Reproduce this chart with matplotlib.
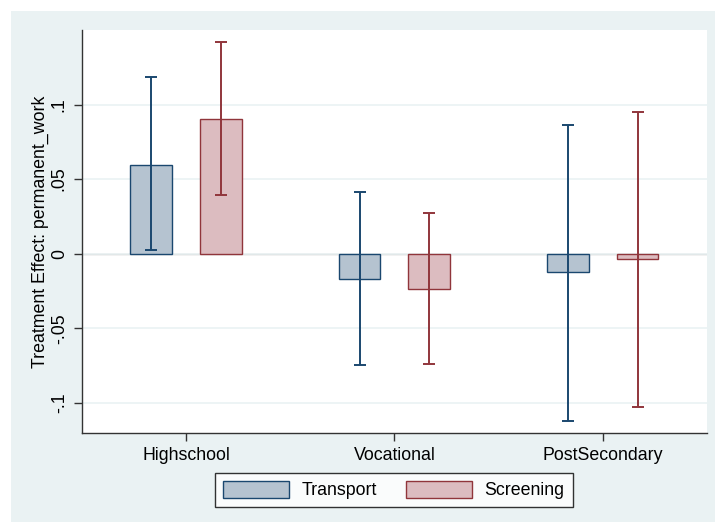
import numpy as np
import matplotlib
matplotlib.use("Agg")
from matplotlib import pyplot as plt
from matplotlib.patches import Rectangle

plt.rcParams['font.family'] = ['Liberation Sans', 'DejaVu Sans']

categories = ["Highschool", "Vocational", "PostSecondary"]
transport = [0.0598, -0.0167, -0.0123]
transport_lo = [0.0022, -0.0743, -0.1122]
transport_hi = [0.1185, 0.0415, 0.0866]
screening = [0.0906, -0.0236, -0.0035]
screening_lo = [0.0395, -0.0738, -0.1031]
screening_hi = [0.1421, 0.0272, 0.0953]

bg = '#eaf2f3'
navy = '#1a476f'
maroon = '#90353b'
fs = 12.8

fig = plt.figure(figsize=(7.15, 5.22), dpi=100)
fig.patch.set_facecolor('white')
fig.patches.append(Rectangle((11 / 715, 0), 1, 511 / 522, transform=fig.transFigure,
                             facecolor=bg, edgecolor='none', zorder=-10))
ax = fig.add_axes([0.1143, 0.1711, 0.8746, 0.7715])
ax.set_facecolor('white')

x = np.arange(1, len(categories) + 1)
off = 0.167
w = 0.2

for xs, vals, lo, hi, fc, ec, lab in [
        (x - off, transport, transport_lo, transport_hi, '#b5c3d0', navy, 'Transport'),
        (x + off, screening, screening_lo, screening_hi, '#dcbcc0', maroon, 'Screening')]:
    ax.bar(xs, vals, width=w, facecolor=fc, edgecolor=ec, linewidth=1, label=lab, zorder=2)
    vals = np.array(vals)
    yerr = [vals - np.array(lo), np.array(hi) - vals]
    ax.errorbar(xs, vals, yerr=yerr, fmt='none', ecolor=ec, elinewidth=1.4,
                capsize=4, capthick=1.4, zorder=3)

ax.set_xlim(0.5, 3.5)
ax.set_ylim(-0.12, 0.15)
ax.set_yticks([-0.1, -0.05, 0, 0.05, 0.1])
ax.set_yticklabels(["-.1", "-.05", "0", ".05", ".1"], rotation=90, va='center')
ax.set_xticks(x)
ax.set_xticklabels(categories)
ax.tick_params(axis='both', labelsize=fs, length=6, width=1, color='#333333', pad=4)
ax.grid(axis='y', color=bg, linewidth=1.2, zorder=0)
ax.axhline(0, color='#b8b8b8', linewidth=1, zorder=1)

for s in ['top', 'right']:
    ax.spines[s].set_visible(False)
for s in ['left', 'bottom']:
    ax.spines[s].set_color('#333333')
    ax.spines[s].set_linewidth(1)

ax.set_ylabel("Treatment Effect: permanent_work", fontsize=fs, labelpad=1)

leg = fig.legend(loc='center', bbox_to_anchor=(394 / 715, 32 / 522), ncol=2,
                 fontsize=fs, frameon=True, fancybox=False, edgecolor='black',
                 handlelength=3.7, handleheight=1.1, columnspacing=1.6,
                 borderpad=0.45, handletextpad=0.73)
leg.get_frame().set_linewidth(1)

fig.savefig('out.png', dpi=100, facecolor=fig.get_facecolor())
